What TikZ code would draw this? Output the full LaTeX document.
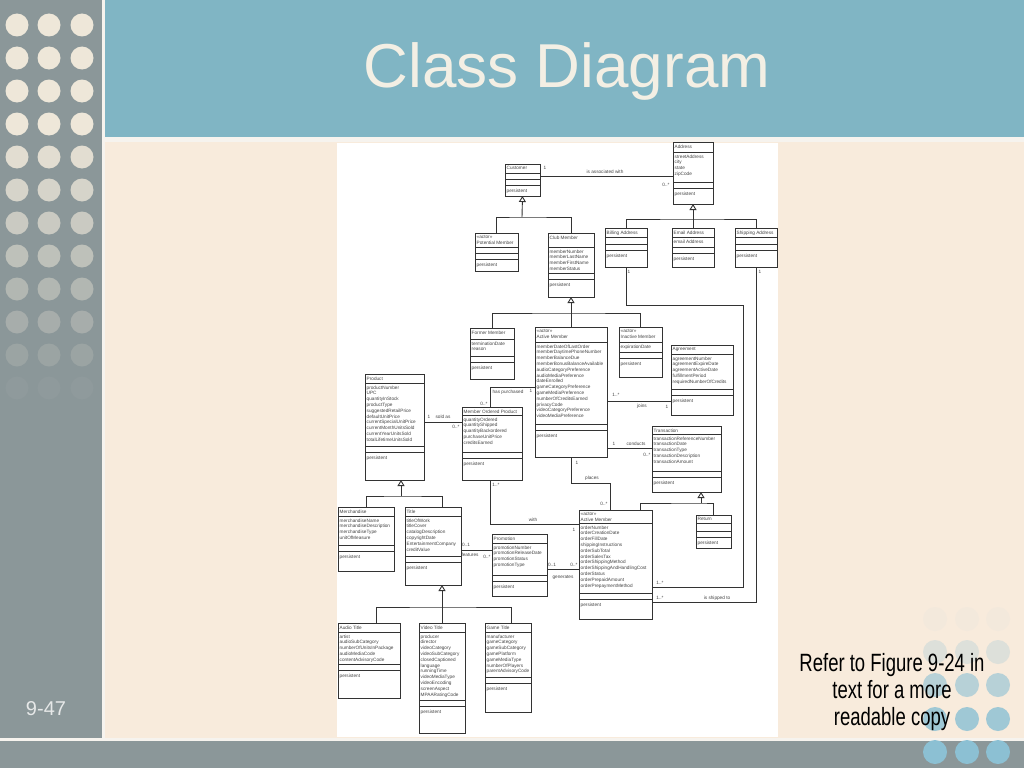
\documentclass[tikz,border=0pt]{standalone}
\usepackage{fontspec}
\setmainfont{Liberation Sans}
\usetikzlibrary{arrows.meta}
\usetikzlibrary{positioning}

\definecolor{pagewhite}{HTML}{F6F3EE}
\definecolor{sidegray}{HTML}{8B9799}
\definecolor{titleteal}{HTML}{80B5C4}
\definecolor{slidecream}{HTML}{F8EBDC}
\definecolor{dotcream}{HTML}{EEE7D9}
\definecolor{dotblue}{HTML}{8CC0D3}
\definecolor{titletext}{HTML}{F3EFE4}
\definecolor{pagetext}{HTML}{E6E8E8}
\definecolor{umlink}{HTML}{333333}
\definecolor{umltext}{HTML}{444444}

\newcommand{\clsfont}{\fontsize{4.7}{5.8}\selectfont}

% class box: name, x, y, width, name height, attribute height, persistent height, name text, attributes
\newcommand{\umlclass}[9]{%
  \pgfmathsetmacro{\clsH}{#5+#6+6+#7}
  \node[classbox, minimum width=#4pt, minimum height=\clsH pt, anchor=north west] (#1) at (#2,#3) {};
  \draw[classline] (#1.north west) ++(0,#5) -- ++(#4,0);
  \draw[classline] (#1.north west) ++(0,#5+#6) -- ++(#4,0);
  \draw[classline] (#1.north west) ++(0,#5+#6+6) -- ++(#4,0);
  \path (#1.north west) ++(1.5,2.5) node[clstext] (#1-h) {#8};
  \path (#1.north west) ++(1.5,#5+2.5) node[clstext] (#1-a) {#9};
  \path (#1.north west) ++(1.5,#5+#6+6+3.5) node[clstext] (#1-p) {persistent};
}

\begin{document}
\begin{tikzpicture}[
  x=1pt,
  y=-1pt,
  every node/.style={font=\clsfont},
  classbox/.style={draw=umlink, fill=white, line width=1pt, inner sep=0pt, outer sep=0pt},
  classline/.style={draw=umlink, line width=0.9pt},
  clstext/.style={anchor=north west, inner sep=0pt, align=left, text=umltext},
  lab/.style={inner sep=0pt, text=umltext},
  assoc/.style={draw=umlink, line width=0.9pt},
  inherit/.style={assoc, -{Triangle[open, length=6pt, width=7pt]}}
]

\useasboundingbox (0,0) rectangle (1024,768);

% slide background
\fill[pagewhite] (0,0) rectangle (1024,768);
\fill[sidegray] (0,0) rectangle (102,738);
\fill[titleteal] (105,0) rectangle (1024,137);
\fill[slidecream] (105,142) rectangle (1024,738);
\fill[sidegray] (0,741) rectangle (1024,768);
\fill[white] (337,143) rectangle (778,737);

% dots of the side bar
\foreach \i in {0,...,13} {
  \pgfmathtruncatemacro{\shade}{max(0,min(100,100-(\i-3)*12))}
  \foreach \cx in {17,49,82}
    \fill[dotcream!\shade!sidegray] (\cx,25+33*\i) circle (11.5pt);
}

% dots bottom right
\foreach \ry/\rp in {619/5, 652/25, 685/60, 719/82, 752/100}
  \foreach \cx in {935,967,998}
    \fill[dotblue!\rp!slidecream] (\cx,\ry) circle (12pt);

\node[font=\fontsize{62}{62}\selectfont, text=titletext, anchor=base] (title) at (567,87) {Class Diagram};
\node[font=\fontsize{20}{20}\selectfont, text=pagetext, anchor=base] (pgno) at (46,715) {9-47};

% classes
\umlclass{cust}{505}{164}{35}{9}{6}{11}{Customer}{}
\umlclass{potm}{475}{233}{43}{14}{6}{12}{<<actor>>\\Potential Member}{}
\umlclass{club}{548}{233}{46}{14}{26}{18}{Club Member}{memberNumber\\memberLastName\\memberFirstName\\memberStatus}
\umlclass{addr}{673}{142}{40}{10}{30}{16}{Address}{streetAddress\\city\\state\\zipCode}
\umlclass{bill}{605}{228}{42}{9}{7}{17}{Billing Address}{}
\umlclass{email}{672}{228}{42}{9}{10}{14}{Email Address}{email Address}
\umlclass{ship}{735}{228}{42}{9}{7}{17}{Shipping Address}{}
\umlclass{form}{470}{328}{44}{11}{17}{17}{Former Member}{terminationDate\\reason}
\umlclass{actm}{535}{327}{72}{15}{82}{27}{<<actor>>\\Active Member}{memberDateOfLastOrder\\memberDaytimePhoneNumber\\memberBalanceDue\\memberBonusBalanceAvailable\\audioCategoryPreference\\audioMediaPreference\\dateEnrolled\\gameCategoryPreference\\gameMediaPreference\\numberOfCreditsEarned\\privacyCode\\videoCategoryPreference\\videoMediaPreference}
\umlclass{inact}{619}{327}{43}{15}{10}{19}{<<actor>>\\Inactive Member}{expirationDate}
\umlclass{agr}{671}{345}{62}{9}{35}{20}{Agreement}{agreementNumber\\agreementExpireDate\\agreementActiveDate\\fulfillmentPeriod\\requiredNumberOfCredits}
\umlclass{trans}{652}{426}{69}{8}{37}{15}{Transaction}{transactionReferenceNumber\\transactionDate\\transactionType\\transactionDescription\\transactionAmount}
\umlclass{ret}{696}{515}{35}{8}{8}{11}{Return}{}
\umlclass{ordr}{579}{510}{73}{13}{70}{20}{<<actor>>\\Active Member}{orderNumber\\orderCreationDate\\orderFillDate\\shippingInstructions\\orderSubTotal\\orderSalesTax\\orderShippingMethod\\orderShippingAndHandlingCost\\orderStatus\\orderPrepaidAmount\\orderPrepaymentMethod}
\umlclass{prod}{365}{374}{59}{9}{63}{28}{Product}{productNumber\\UPC\\quantityInStock\\productType\\suggestedRetailPrice\\defaultUnitPrice\\currentSpecialUnitPrice\\currentMonthUnitsSold\\currentYearUnitsSold\\totalLifetimeUnitsSold}
\umlclass{mop}{462}{407}{60}{8}{37}{22}{Member Ordered Product}{quantityOrdered\\quantityShipped\\quantityBackordered\\purchaseUnitPrice\\creditsEarned}
\umlclass{merch}{338}{507}{56}{9}{29}{20}{Merchandise}{merchandiseName\\merchandiseDescription\\merchandiseType\\unitOfMeasure}
\umlclass{title}{405}{507}{56}{9}{40}{23}{Title}{titleOfWork\\titleCover\\catalogDescription\\copyrightDate\\EntertainmentCompany\\creditValue}
\umlclass{promo}{492}{534}{55}{9}{32}{15}{Promotion}{promotionNumber\\promotionReleaseDate\\promotionStatus\\promotionType}
\umlclass{audio}{338}{623}{62}{9}{32}{28}{Audio Title}{artist\\audioSubCategory\\numberOfUnitsInPackage\\audioMediaCode\\contentAdvisoryCode}
\umlclass{video}{419}{623}{46}{9}{68}{27}{Video Title}{producer\\director\\videoCategory\\videoSubCategory\\closedCaptioned\\language\\runningTime\\videoMediaType\\videoEncoding\\screenAspect\\MPAARatingCode}
\umlclass{game}{485}{623}{46}{9}{45}{29}{Game Title}{manufacturer\\gameCategory\\gameSubCategory\\gamePlatform\\gameMediaType\\numberOfPlayers\\parentAdvisoryCode}

% generalisations
\coordinate (custj) at (522,217);
\draw[assoc] (potm.north) |- (custj) -| (club.north);
\draw[inherit] (custj) -- (cust.south);

\coordinate (addrj) at (693,219);
\draw[assoc] (bill.north) |- (addrj) -| (ship.north);
\draw[assoc] (email.north) -- (email.north |- addrj);
\draw[inherit] (addrj) -- (addr.south);

\coordinate (clubj) at (571,313);
\draw[assoc] (form.north) |- (clubj) -| (inact.north);
\draw[assoc] (actm.north) -- (actm.north |- clubj);
\draw[inherit] (clubj) -- (club.south);

\coordinate (prodj) at (401,496);
\draw[assoc] (merch.north) |- (prodj) -| ([xshift=9pt]title.north);
\draw[inherit] (prodj) -- (prodj |- prod.south);

\coordinate (titlej) at (442,607);
\draw[assoc] ([xshift=7pt]audio.north) |- (titlej) -| ([xshift=3pt]game.north);
\draw[assoc] (video.north) -- (video.north |- titlej);
\draw[inherit] (titlej) -- (titlej |- title.south);

\coordinate (transj) at (701,503);
\draw[assoc] ([xshift=24.5pt]ordr.north) |- (transj) -| (ret.north);
\draw[inherit] (transj) -- (transj |- trans.south);

% associations
\draw[assoc] (cust.east |- 0,176) -- (addr.west |- 0,176);
\draw[assoc] (actm.east |- 0,401) -- (agr.west |- 0,401);
\draw[assoc] (actm.east |- 0,448) -- (trans.west |- 0,448);
\draw[assoc] (actm.south) -- (actm.south |- 0,483) -| ([xshift=-5.5pt]ordr.north);
\draw[assoc] (bill.south) |- (743,305) |- (ordr.east |- 0,587);
\draw[assoc] (ship.south) |- (ordr.east |- 0,602);
\draw[assoc] (prod.east |- 0,422) -- (mop.west |- 0,422);
\draw[assoc] (mop.north -| 490,0) |- (actm.west |- 0,387);
\draw[assoc] (mop.south -| 490,0) |- (ordr.west |- 0,524);
\draw[assoc] (title.east |- 0,550) -- (promo.west |- 0,550);
\draw[assoc] (promo.east |- 0,569) -- (ordr.west |- 0,569);

% association labels
\node[lab] (m-cust) at (545,168) {1};
\node[lab] (l-assoc) at (605,172) {is associated with};
\node[lab] (m-addr) at (666,185) {0..*};
\node[lab] (m-bill) at (629,272) {1};
\node[lab] (m-ship) at (760,272) {1};
\node[lab] (m-join1) at (616,395) {1..*};
\node[lab] (l-join) at (642,406) {joins};
\node[lab] (m-join2) at (667,407) {1};
\node[lab] (m-cond1) at (614,444) {1};
\node[lab] (l-cond) at (636,444) {conducts};
\node[lab] (m-cond2) at (647,455) {0..*};
\node[lab] (m-plc1) at (577,463) {1};
\node[lab] (l-plc) at (592,478) {places};
\node[lab] (m-plc2) at (604,504) {0..*};
\node[lab] (m-bill2) at (660,583) {1..*};
\node[lab] (m-ship2) at (660,598) {1..*};
\node[lab] (l-ship) at (717,598) {is shipped to};
\node[lab] (m-sold1) at (429,417) {1};
\node[lab] (l-sold) at (443,417) {sold as};
\node[lab] (m-sold2) at (456,427) {0..*};
\node[lab] (m-has1) at (484,404) {0..*};
\node[lab] (l-has) at (508,392) {has purchased};
\node[lab] (m-has2) at (531,391) {1};
\node[lab] (m-with1) at (496,485) {1..*};
\node[lab] (l-with) at (533,520) {with};
\node[lab] (m-with2) at (574,530) {1};
\node[lab] (m-feat1) at (466,545) {0..1};
\node[lab] (l-feat) at (470,555) {features};
\node[lab] (m-feat2) at (487,557) {0..*};
\node[lab] (m-gen1) at (552,565) {0..1};
\node[lab] (m-gen2) at (574,565) {0..*};
\node[lab] (l-gen) at (563,577) {generates};

% note on the right
\node[font=\fontsize{25}{25}\selectfont, xscale=0.74, anchor=base] (ref1) at (892,671) {Refer to Figure 9-24 in};
\node[font=\fontsize{25}{25}\selectfont, xscale=0.74, anchor=base] (ref2) at (892,698) {text for a more};
\node[font=\fontsize{25}{25}\selectfont, xscale=0.74, anchor=base] (ref3) at (892,725) {readable copy};

\end{tikzpicture}
\end{document}
